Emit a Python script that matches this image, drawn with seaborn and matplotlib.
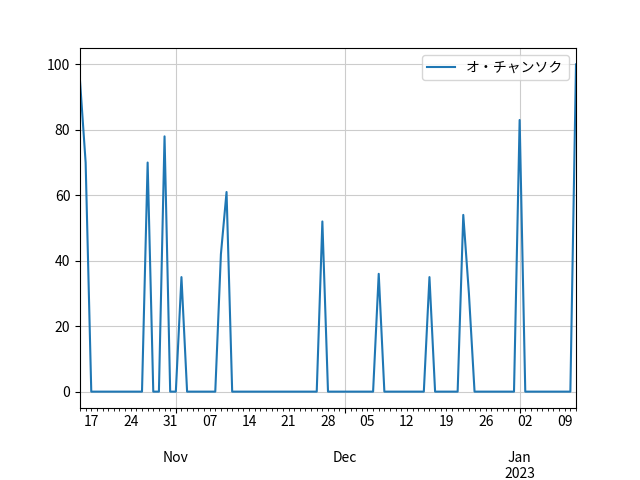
import matplotlib
matplotlib.use("Agg")
import matplotlib.pyplot as plt
import matplotlib.dates as mdates
import matplotlib.ticker as mticker
import pandas as pd
import seaborn as sns

plt.rcParams["font.family"] = ["Noto Sans CJK JP", "DejaVu Sans"]

# ---- data ----
start_date = "2022-10-15"
series_label = "オ・チャンソク"
values = [
    95, 70, 0, 0, 0, 0, 0, 0, 0, 0,
    0, 0, 70, 0, 0, 78, 0, 0, 35, 0,
    0, 0, 0, 0, 0, 42, 61, 0, 0, 0,
    0, 0, 0, 0, 0, 0, 0, 0, 0, 0,
    0, 0, 0, 52, 0, 0, 0, 0, 0, 0,
    0, 0, 0, 36, 0, 0, 0, 0, 0, 0,
    0, 0, 35, 0, 0, 0, 0, 0, 54, 30,
    0, 0, 0, 0, 0, 0, 0, 0, 83, 0,
    0, 0, 0, 0, 0, 0, 0, 0, 100,
]
month_ticks = ["2022-11-01", "2022-12-01", "2023-01-01"]
month_labels = ["Nov", "Dec", "Jan\n2023"]

dates = pd.date_range(start_date, periods=len(values), freq="D")
df = pd.DataFrame({"date": dates, "value": values})

fig, ax = plt.subplots(figsize=(6.4, 4.8), dpi=100)
fig.subplots_adjust(left=0.125, right=0.9, top=0.9, bottom=0.15)

sns.lineplot(data=df, x="date", y="value", ax=ax, color="#1f77b4",
             linewidth=1.5, label=series_label)

ax.set_xlim(dates[0], dates[-1])

major_locs = [mdates.date2num(pd.Timestamp(d)) for d in month_ticks]
ax.xaxis.set_major_locator(mticker.FixedLocator(major_locs))
ax.xaxis.set_major_formatter(mticker.FixedFormatter(month_labels))
ax.xaxis.set_minor_locator(mdates.DayLocator())


def minor_fmt(x, pos):
    d = mdates.num2date(x)
    return d.strftime("%d") if d.weekday() == 0 else ""


ax.xaxis.set_minor_formatter(mticker.FuncFormatter(minor_fmt))
ax.tick_params(axis="x", which="minor", labelsize=10)
ax.tick_params(axis="x", which="major", pad=27.5)

ax.set_xlabel("")
ax.set_ylabel("")
ax.grid(True, which="major", color="#cccccc", linewidth=0.8)
ax.legend(loc="upper right")

fig.savefig("out.png", dpi=100)
